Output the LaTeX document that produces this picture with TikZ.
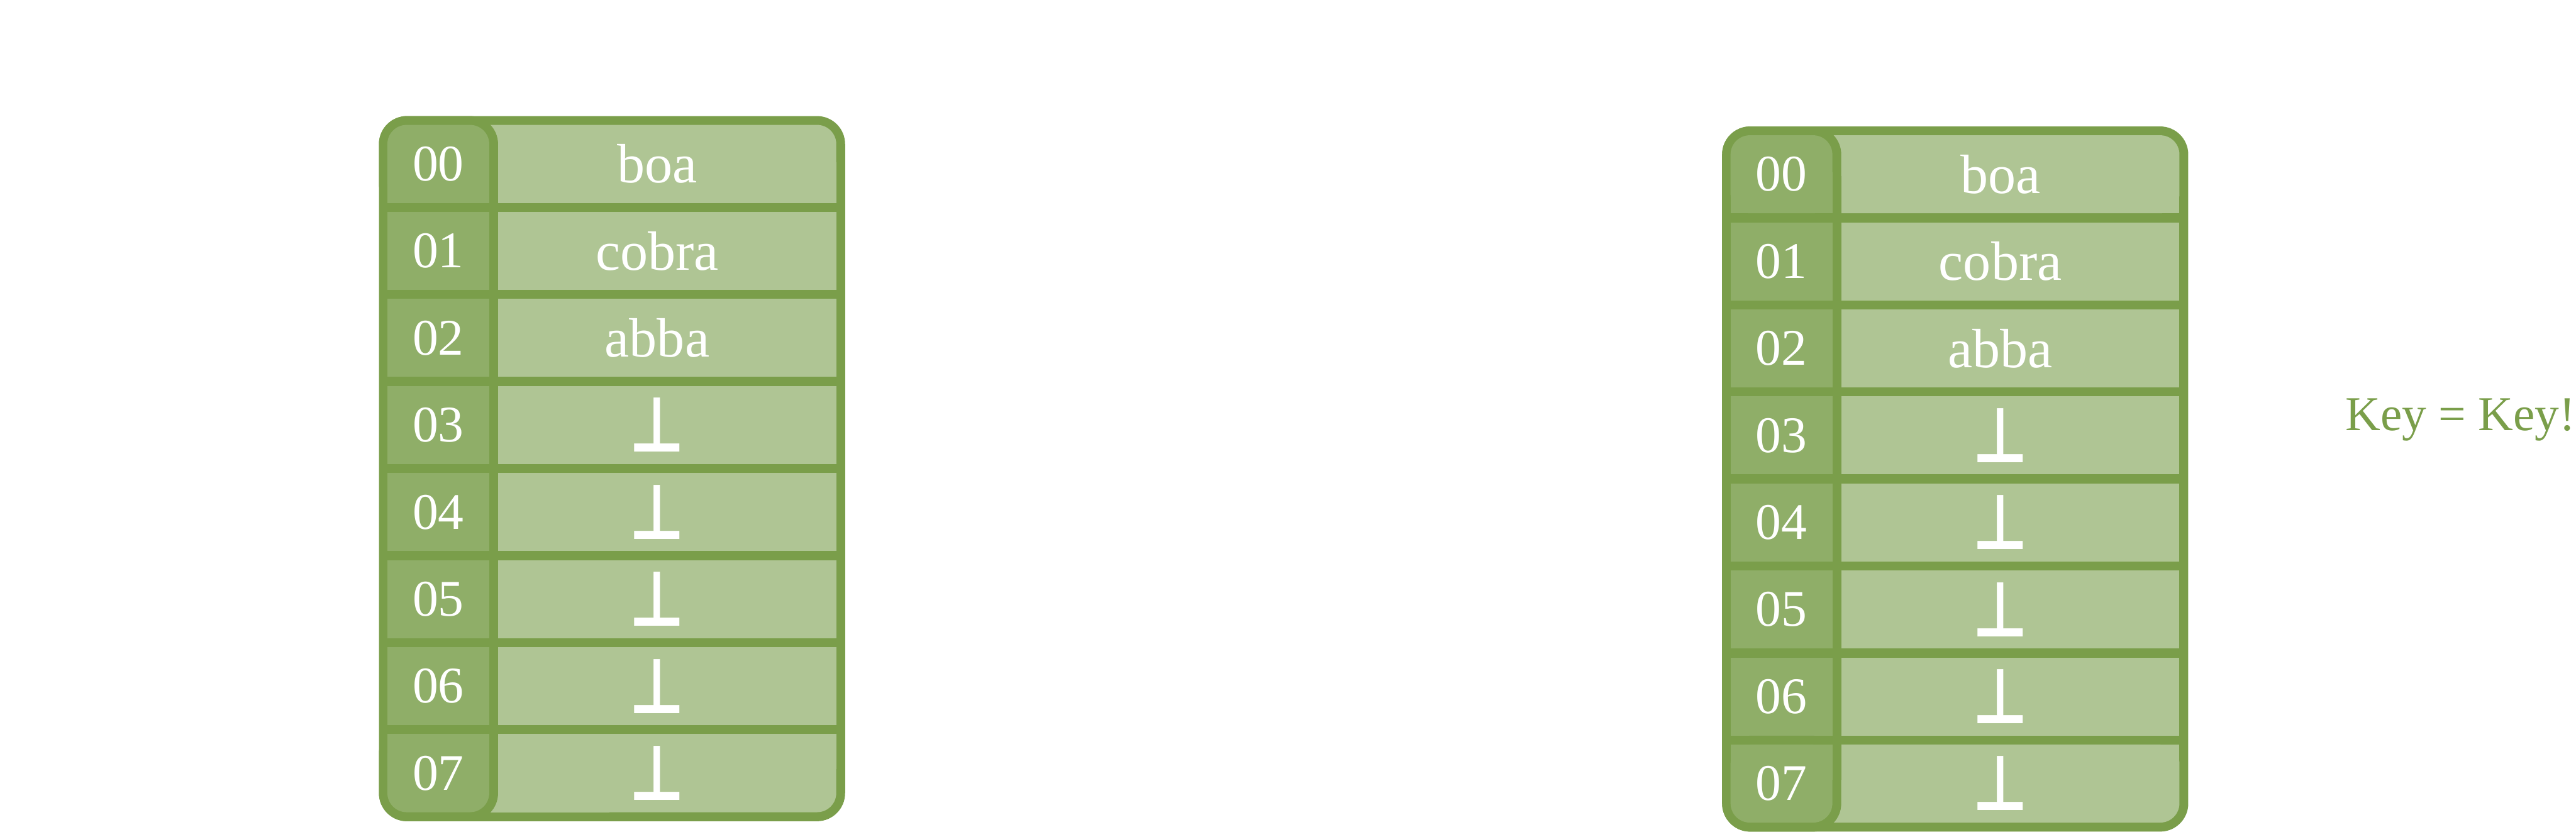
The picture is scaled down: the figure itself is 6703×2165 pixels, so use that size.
\documentclass[tikz,border=0pt]{standalone}
\usepackage{fontspec}
\setmainfont{Liberation Serif}
\newfontfamily\perpfont{DejaVu Sans}
\definecolor{hborder}{RGB}{122,158,74}
\definecolor{hdark}{RGB}{143,174,104}
\definecolor{hlight}{RGB}{175,197,148}
\newcommand\emptyslot{\scalebox{0.85}[1.07]{\perpfont\bfseries\fontsize{53}{53}\selectfont ⊥}}
\tikzset{
  idxtext/.style={text=white, inner sep=0pt, font=\fontsize{38}{40}\selectfont},
  valtext/.style={text=white, inner sep=0pt, font=\fontsize{41}{44}\selectfont},
  keytext/.style={text=hborder, inner sep=0pt, font=\fontsize{36}{40}\selectfont},
}
\newcommand\hashtable[3]{%
\begin{scope}[shift={(#2,#3)}]
  \fill[hborder, rounded corners=0.73cm] (0,0) rectangle (1213,1835);
  \foreach \k in {1,...,6}{
    \pgfmathsetmacro\rt{23+226.5*\k}
    \pgfmathsetmacro\rb{\rt+203}
    \fill[hlight] (310,\rt) rectangle (1190,\rb);
    \fill[hdark] (22,\rt) rectangle (287,\rb);
  }
  % row 0
  \fill[hlight, rounded corners=0.5cm] (240,23) rectangle (1190,226);
  \fill[hlight] (240,23) rectangle (600,226);
  \fill[hlight] (240,120) rectangle (1190,226);
  \fill[hborder, rounded corners=0.73cm] (0,0) rectangle (310,249);
  \fill[hborder] (0,130) rectangle (310,249);
  \fill[hdark, rounded corners=0.5cm] (22,23) rectangle (287,226);
  \fill[hdark] (22,120) rectangle (287,226);
  % row 7
  \fill[hlight, rounded corners=0.5cm] (240,1608.5) rectangle (1190,1811.5);
  \fill[hlight] (240,1608.5) rectangle (600,1811.5);
  \fill[hlight] (240,1608.5) rectangle (1190,1700);
  \fill[hborder, rounded corners=0.73cm] (0,1585.5) rectangle (310,1835);
  \fill[hborder] (0,1585.5) rectangle (310,1700);
  \fill[hdark, rounded corners=0.5cm] (22,1608.5) rectangle (287,1811.5);
  \fill[hdark] (22,1608.5) rectangle (287,1700);
  % texts
  \foreach \k/\idx/\val in {0/00/boa,1/01/cobra,2/02/abba,3/03/\emptyslot,4/04/\emptyslot,5/05/\emptyslot,6/06/\emptyslot,7/07/\emptyslot}{
    \pgfmathsetmacro\rc{23+226.5*\k+101.5}
    \node[idxtext] (#1-idx-\k) at (154.5,\rc) {\idx};
    \node[valtext] (#1-val-\k) at (724,\rc) {\val};
  }
\end{scope}}
\begin{document}
\begin{tikzpicture}[x=0.01cm, y=-0.01cm]
  \useasboundingbox (0,0) rectangle (6703,2165);
  \hashtable{L}{986}{302}
  \hashtable{R}{4481}{329}
  \node[keytext, anchor=base west] (key) at (6102,1120) {Key = Key!};
\end{tikzpicture}
\end{document}
